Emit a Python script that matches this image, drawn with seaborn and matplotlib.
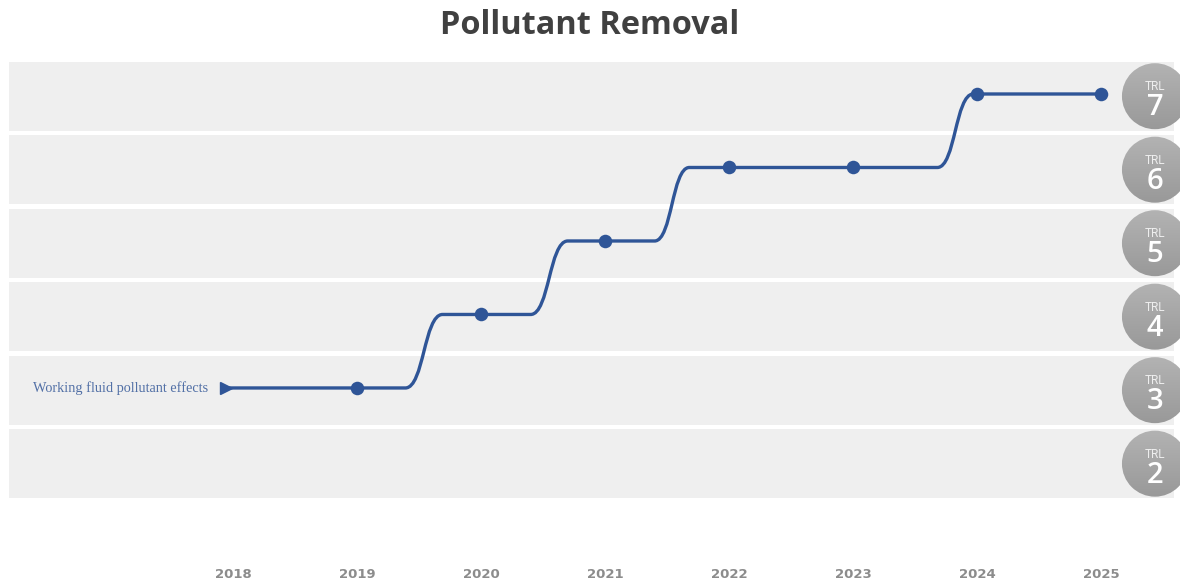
import numpy as np
import pandas as pd
import matplotlib
matplotlib.use("Agg")
import matplotlib.pyplot as plt
from matplotlib.path import Path
from matplotlib.patches import PathPatch, Rectangle, Ellipse
from matplotlib.colors import LinearSegmentedColormap
import seaborn as sns

# ---------- data ----------
milestone_years = [2019, 2020, 2021, 2022, 2023, 2024, 2025]
milestone_trl = [3, 4, 5, 6, 6, 7, 7]
start_year = 2017.91
start_trl = 3
start_label = "Working fluid pollutant effects"
step_start = [2019.39, 2020.40, 2021.40, 2023.68]
step_end = [2019.69, 2020.70, 2021.68, 2023.97]
step_from = [3, 4, 5, 6]
step_to = [4, 5, 6, 7]
tick_years = [2018, 2019, 2020, 2021, 2022, 2023, 2024, 2025]
tick_labels = ["2018", "2019", "2020", "2021", "2022", "2023", "2024", "2025"]
trl_levels = [7, 6, 5, 4, 3, 2]

sns.set_theme(style="white")
plt.rcParams['font.family'] = ['DejaVu Sans']

BLUE = "#2f5597"
fig = plt.figure(figsize=(11.8, 5.84), dpi=100)
ax = fig.add_axes([0, 0.048, 1, 0.952])
ax.set_xlim(2016.121, 2025.637)
ax.set_ylim(0.714, 8.279)

# background bands
for lvl in trl_levels:
    ax.add_patch(Rectangle((2016.19, lvl - 0.5), 9.4, 0.94,
                           facecolor="#efefef", edgecolor="none", zorder=0))

# smooth step line
verts = [(start_year, start_trl)]
codes = [Path.MOVETO]
for s, e, a, b in zip(step_start, step_end, step_from, step_to):
    w = e - s
    verts += [(s, a), (s + w * 0.5, a), (e - w * 0.5, b), (e, b)]
    codes += [Path.LINETO, Path.CURVE4, Path.CURVE4, Path.CURVE4]
verts.append((milestone_years[-1], milestone_trl[-1]))
codes.append(Path.LINETO)
ax.add_patch(PathPatch(Path(verts, codes), facecolor="none", edgecolor=BLUE,
                       linewidth=2.4, capstyle="round", joinstyle="round", zorder=2))

df = pd.DataFrame({"year": milestone_years, "trl": milestone_trl})
sns.scatterplot(data=df, x="year", y="trl", ax=ax, color=BLUE, s=95,
                edgecolor=BLUE, linewidth=0, zorder=3, legend=False)
ax.plot([start_year + 0.03], [start_trl], marker=">", color=BLUE,
        markersize=8, linestyle="none", zorder=3)
ax.text(start_year - 0.11, start_trl, start_label, ha="right", va="center",
        family="Liberation Serif", fontsize=10.3, color="#5270a6")

# TRL badges
cx = 2025.435
cmap = LinearSegmentedColormap.from_list("g", ["#999999", "#b3b3b3"])
for lvl in trl_levels:
    cy = lvl - 0.03
    circ = Ellipse((cx, cy), 66 / 124, 66 / 73.5, facecolor="none",
                   edgecolor="none", zorder=5)
    ax.add_patch(circ)
    grad = np.linspace(0, 1, 100).reshape(-1, 1)
    im = ax.imshow(grad, extent=(cx - 0.28, cx + 0.28, cy - 0.46, cy + 0.46),
                   cmap=cmap, origin="lower", aspect="auto", zorder=4)
    im.set_clip_path(circ)
    ax.text(cx, cy + 0.13, "TRL", ha="center", va="center", fontsize=8.5,
            family="Roboto", color="#eeeeee", zorder=6)
    ax.text(cx, cy - 0.16, str(lvl), ha="center", va="center", fontsize=21,
            family="Open Sans", fontweight="semibold", color="white", zorder=6)

ax.set_xlim(2016.121, 2025.637)
ax.set_ylim(0.714, 8.279)
ax.set_xticks(tick_years)
ax.set_xticklabels(tick_labels, fontsize=9.5, fontweight="bold", color="#8c8c8c")
ax.set_yticks([])
ax.tick_params(axis="x", length=0, pad=9)
ax.set_xlabel("")
ax.set_ylabel("")
for sp in ax.spines.values():
    sp.set_visible(False)

fig.text(0.5, 1 - 25 / 584, "Pollutant Removal", ha="center", va="center",
         family="Open Sans", fontsize=23.4, fontweight="bold", color="#404040")

fig.savefig("out.png", dpi=100)
